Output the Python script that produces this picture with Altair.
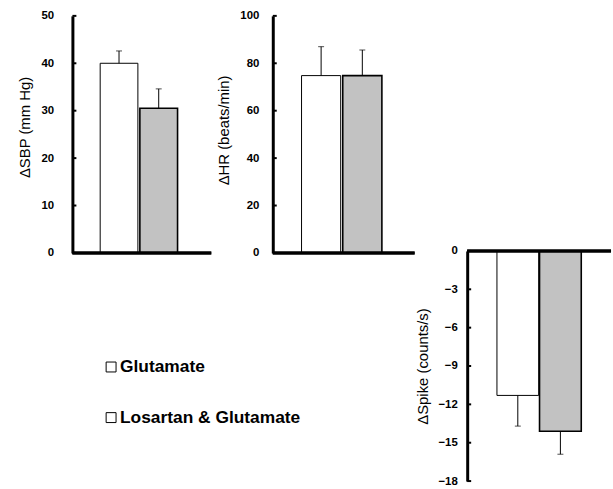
import altair as alt
import pandas as pd

groups = ["Glutamate", "Losartan & Glutamate"]
bar_colors = ["#ffffff", "#c2c2c2"]
bar_strokes = [1.0, 1.6]

sbp_mean = [40.0, 30.5]
sbp_err = [2.6, 4.1]
hr_mean = [74.8, 74.8]
hr_err = [12.2, 10.8]
spike_mean = [-11.3, -14.1]
spike_err = [2.4, 1.8]

sbp_ticks = [0, 10, 20, 30, 40, 50]
hr_ticks = [0, 20, 40, 60, 80, 100]
spike_ticks = [0, -3, -6, -9, -12, -15, -18]

titles = ["\u0394SBP (mm Hg)", "\u0394HR (beats/min)", "\u0394Spike (counts/s)"]
legend_labels = ["Glutamate", "Losartan & Glutamate"]

H = 469
LABEL_FONT = "Liberation Sans"


def panel(mean, err, ticks, title, domain, y_range, x_range, width,
          base_len, label_pad, pad_inner, title_y=None, extra=None):
    ends = [m + e if m >= 0 else m - e for m, e in zip(mean, err)]
    df = pd.DataFrame({"group": groups, "mean": mean, "end": ends,
                       "sw": bar_strokes})
    xenc = alt.X("group:N", sort=groups,
                 scale=alt.Scale(domain=groups, range=x_range,
                                 paddingInner=pad_inner, paddingOuter=0),
                 axis=None)
    yscale = alt.Scale(domain=domain, range=y_range, nice=False, zero=False)
    axis_kw = dict(values=ticks, title=title, ticks=False, tickSize=0,
                   grid=False, domainWidth=3, domainColor="black",
                   labelFont=LABEL_FONT, labelFontWeight="bold",
                   labelFontSize=11.5, labelColor="black",
                   labelPadding=label_pad, titlePadding=8,
                   titleFont=LABEL_FONT, titleFontWeight="normal",
                   titleFontSize=15, titleColor="black", format="d")
    if title_y is not None:
        axis_kw["titleY"] = title_y
    yaxis = alt.Axis(**axis_kw)
    base = alt.Chart(df)
    bars = base.mark_bar(stroke="black").encode(
        x=xenc,
        y=alt.Y("mean:Q", scale=yscale, axis=yaxis),
        y2=alt.datum(0),
        fill=alt.Fill("group:N", scale=alt.Scale(domain=groups, range=bar_colors),
                      legend=None),
        strokeWidth=alt.StrokeWidth("sw:Q", scale=None, legend=None),
    )
    err_rule = base.mark_rule(color="black", strokeWidth=1).encode(
        x=xenc, y=alt.Y("mean:Q", scale=yscale, axis=yaxis), y2="end:Q")
    caps = base.mark_tick(color="black", thickness=1, size=6).encode(
        x=xenc, y=alt.Y("end:Q", scale=yscale, axis=yaxis))
    baseline = base.mark_rule(color="black", strokeWidth=3).encode(
        y=alt.datum(0), x=alt.value(0), x2=alt.value(base_len))
    tdf = pd.DataFrame({"t": ticks})
    inticks = alt.Chart(tdf).mark_rule(color="black", strokeWidth=2).encode(
        y=alt.Y("t:Q", scale=yscale, axis=yaxis),
        x=alt.value(0), x2=alt.value(4))
    layers = [bars, err_rule, caps, baseline, inticks]
    if extra:
        layers += extra
    return alt.layer(*layers).properties(width=width, height=H)


# legend (text + open squares) placed under the first two panels
legend_layers = []
for i, lab in enumerate(legend_labels):
    d = pd.DataFrame({"label": [lab]})
    yv = 354 + i * 51
    legend_layers.append(
        alt.Chart(d).mark_point(shape="square", filled=True, fill="white",
                                stroke="black", strokeWidth=1, size=100,
                                opacity=1).encode(
            x=alt.value(39), y=alt.value(yv)))
    legend_layers.append(
        alt.Chart(d).mark_text(align="left", baseline="middle",
                               font=LABEL_FONT, fontWeight="bold",
                               fontSize=17.5, color="black").encode(
            text="label:N", x=alt.value(48), y=alt.value(yv)))

p1 = panel(sbp_mean, sbp_err, sbp_ticks, titles[0], [0, 50], [239, 0],
           [28, 106], 149, 140, 19, 0.05, title_y=112, extra=legend_layers)
p2 = panel(hr_mean, hr_err, hr_ticks, titles[1], [0, 100], [239, 0],
           [29, 110], 143, 143, 14, 0.05, title_y=115)
p3 = panel(spike_mean, spike_err, spike_ticks, titles[2], [-18, 0], [H, 237],
           [30, 115], 145, 145, 10, 0.02)

chart = alt.hconcat(p1, p2, p3, spacing=53, bounds="flush").properties(
    padding={"left": 18, "top": 8, "right": 0, "bottom": 0},
    background="white",
).configure_view(stroke=None)

chart.save("out.html", embed_options={"renderer": "svg", "actions": False})
